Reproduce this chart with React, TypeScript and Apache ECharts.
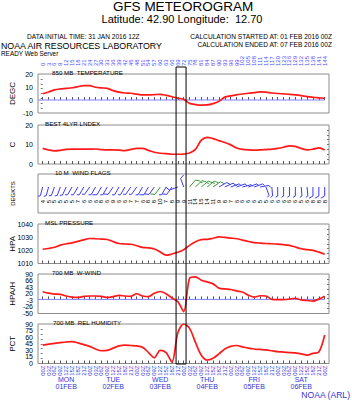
import React, { useEffect, useRef } from "react";
import * as echarts from "echarts";

// ---------- tick labels ----------
const forecastHourLabels = ["0","3","6","9","12","15","18","21","24","27","30","33","36","39","42","45","48","51","54","57","60","63","66","69","72","75","78","81","84","87","90","93","96","99","102","105","108","111","114","117","120","123","126","129","132","135","138","141","144"];
const utcHourLabels = ["00Z","03Z","06Z","09Z","12Z","15Z","18Z","21Z"];
const dayLabels = ["MON\n01FEB","TUE\n02FEB","WED\n03FEB","THU\n04FEB","FRI\n05FEB","SAT\n06FEB"];
const dayLabelSteps = [4, 12, 20, 28, 36, 44];
const tempTicks = [-10, 0, 10, 20];
const liftedTicks = [0, 10, 20];
const pressureTicks = [1010, 1020, 1030, 1040];
const wWindTicks = [-50, -26.67, -3.33, 20, 43.33, 66.67, 90];
const rhTicks = [0, 15, 30, 45, 60, 75, 90];

// ---------- series values (one per 3 h step) ----------
const temp850 = [4.8,6.2,7.8,8.5,8.9,9.4,10.3,11.1,11.0,9.8,9.3,9.0,7.2,6.0,5.4,5.2,4.5,3.9,3.9,4.1,4.4,3.6,2.5,1.4,0.5,-2.6,-3.5,-3.9,-3.8,-2.8,-1.0,2.2,3.2,4.0,4.6,5.2,5.7,6.2,6.0,5.4,5.0,4.7,4.4,4.0,3.4,2.6,2.1,1.7,1.3];
const liftedIndex = [8.0,7.2,6.7,7.0,7.5,7.6,7.6,7.6,7.6,7.7,7.4,7.2,7.2,7.1,6.9,7.5,8.0,8.0,7.0,6.0,5.5,5.3,5.0,5.0,5.1,5.6,7.5,12.2,13.7,13.0,12.0,11.0,9.8,8.2,7.5,7.2,7.1,7.2,7.4,7.6,8.0,8.6,9.3,9.0,8.0,7.2,7.6,8.3,7.2];
const mslPressure = [1020.8,1021.4,1022.3,1024.0,1025.0,1025.7,1026.8,1028.0,1029.0,1028.8,1028.5,1028.2,1026.6,1025.2,1024.8,1024.6,1023.5,1022.3,1021.9,1021.0,1018.8,1016.3,1017.2,1018.5,1020.5,1023.8,1026.6,1028.2,1028.3,1029.2,1030.2,1029.8,1029.3,1028.8,1027.8,1026.7,1025.9,1025.5,1025.2,1025.0,1024.7,1024.3,1023.8,1022.5,1021.2,1020.5,1020.0,1018.6,1017.0];
const wWind700 = [27,22,19,18,12,8,7,11,12,12,11,7,10,14,12,11,20,12,10,22,28,20,5,-8,-43,75,80,68,62,55,40,37,35,30,26,15,8,13,12,0,-1,-1,1,4,-2,-4,-6,1,11];
const relHum700 = [42,44,46,47.5,49,50,47,43,39,33,29,30,35,40,42,41,40,37,25,13,30,25,3,70,90,80,48,19,8,12,22,33,39,41,38,35,33,32,31,29,27,26,25,24,22,19,23,26,65];
const windSpeed10m = [4,5,5,5,5,5,7,6,6,6,8,6,9,6,6,7,7,6,8,8,10,7,8,9,9,11,14,15,14,11,9,8,7,6,6,6,6,5,5,6,6,6,6,6,5,6,8,8,8];
const windDir10m = [195,195,200,200,205,210,210,210,215,210,210,210,215,210,210,215,215,210,210,215,215,210,215,250,340,40,45,50,50,55,60,65,70,70,75,70,70,80,160,175,180,180,180,180,175,175,180,180,180];

// calculation window marker (in 3 h steps)
const markerStart = 22.7;
const markerEnd = 24.4;

const FONT = "'Liberation Sans', Arial, sans-serif";
const XMIN = -0.8;
const XMAX = 48.73;
const LEFT = 38;
const WIDTH = 291;
const tops = [74, 125, 174, 224, 274, 324];
const heights = [39, 39, 39, 39.5, 39.5, 39.5];
const steps = forecastHourLabels.map((_, i) => i);
const BLUE = "#3535d8";

const panelTitles = [
  { text: "850 MB  TEMPERATURE", x: 52 },
  { text: "BEST 4LYR LNDEX", x: 45 },
  { text: "10 M  WIND FLAGS", x: 55 },
  { text: "MSL PRESSURE", x: 45 },
  { text: "700 MB  W-WIND", x: 52 },
  { text: "700 MB  REL HUMIDITY", x: 53 },
];

const yDefs = [
  { min: -10, max: 20, ticks: tempTicks, minor: 8, name: "DEGC", nameSize: 8 },
  { min: 0, max: 20, ticks: liftedTicks, minor: 8, name: "C", nameSize: 8 },
  { min: 0, max: 10, ticks: [] as number[], minor: 0, name: "DEGKTS", nameSize: 6 },
  { min: 1010, max: 1040, ticks: pressureTicks, minor: 8, name: "HPA", nameSize: 8 },
  { min: -50, max: 90, ticks: wWindTicks, minor: 8, name: "HPA/H", nameSize: 8 },
  { min: 0, max: 90, ticks: rhTicks, minor: 8, name: "PCT", nameSize: 8 },
];

const px = (v: number) => LEFT + ((v - XMIN) / (XMAX - XMIN)) * WIDTH;

export default function App() {
  const ref = useRef<HTMLDivElement>(null);
  useEffect(() => {
    if (!ref.current) return;
    const chart = echarts.init(ref.current, null, { renderer: "svg" });

    const xAxes: any[] = tops.map((_, k) => ({
      type: "value",
      gridIndex: k,
      min: XMIN,
      max: XMAX,
      axisLine: { show: false },
      splitLine: { show: false },
      axisTick: {
        show: k !== 2,
        inside: true,
        length: 3,
        customValues: steps,
        lineStyle: { color: "#555" },
      },
      axisLabel:
        k === 5
          ? {
              show: true,
              customValues: steps,
              rotate: 90,
              fontSize: 6,
              margin: 2,
              color: BLUE,
              fontFamily: FONT,
              hideOverlap: false,
              formatter: (v: number) => utcHourLabels[Math.round(v) % 8],
            }
          : { show: false },
    }));
    // top forecast-hour labels
    xAxes.push({
      type: "value",
      gridIndex: 0,
      position: "top",
      min: XMIN,
      max: XMAX,
      axisLine: { show: false },
      axisTick: { show: false },
      splitLine: { show: false },
      axisLabel: {
        customValues: steps,
        rotate: 90,
        fontSize: 6,
        margin: 8,
        color: "#4d4dff",
        fontFamily: FONT,
        hideOverlap: false,
        formatter: (v: number) => forecastHourLabels[Math.round(v)],
      },
    });
    // day labels
    xAxes.push({
      type: "value",
      gridIndex: 5,
      position: "bottom",
      min: XMIN,
      max: XMAX,
      axisLine: { show: false },
      axisTick: { show: false },
      splitLine: { show: false },
      axisLabel: {
        customValues: dayLabelSteps,
        fontSize: 7,
        lineHeight: 7,
        margin: 12,
        color: BLUE,
        fontFamily: FONT,
        hideOverlap: false,
        formatter: (v: number) => dayLabels[dayLabelSteps.indexOf(Math.round(v))],
      },
    });

    const yAxes: any[] = yDefs.map((d, k) => ({
      type: "value",
      gridIndex: k,
      min: d.min,
      max: d.max,
      axisLine: { show: false },
      axisTick: { show: false },
      splitLine: { show: false },
      axisLabel: { show: false },
      name: d.name,
      nameLocation: "middle",
      nameRotate: 90,
      nameGap: 22,
      nameMoveOverlap: false,
      nameTextStyle: { fontSize: d.nameSize, color: "#000", fontFamily: FONT },
    }));
    // right-hand minor ticks
    yDefs.forEach((d, k) => {
      const vals: number[] = [];
      for (let j = 1; j < d.minor; j++) vals.push(d.min + ((d.max - d.min) * j) / d.minor);
      yAxes.push({
        type: "value",
        gridIndex: k,
        position: "right",
        min: d.min,
        max: d.max,
        axisLine: { show: false },
        splitLine: { show: false },
        axisLabel: { show: false },
        axisTick: { show: d.minor > 0, inside: true, length: 2, customValues: vals, lineStyle: { color: "#777" } },
      });
    });

    const lineSeries = (k: number, vals: number[]) => ({
      type: "line",
      xAxisIndex: k,
      yAxisIndex: k,
      data: steps.map((i) => [i, vals[i]]),
      symbol: "none",
      smooth: 0.3,
      lineStyle: { color: "#ff1a1a", width: 1.7 },
      silent: true,
    });
    const zeroLine = (k: number) => ({
      type: "line",
      xAxisIndex: k,
      yAxisIndex: k,
      data: [
        [XMIN, 0],
        [steps[steps.length - 1], 0],
      ],
      symbol: "none",
      lineStyle: { color: "#8080ff", width: 1 },
      silent: true,
    });

    const windSeries = {
      type: "custom",
      xAxisIndex: 2,
      yAxisIndex: 2,
      clip: false,
      silent: true,
      data: steps.map((i) => [i, windSpeed10m[i], windDir10m[i]]),
      renderItem: (_params: any, api: any) => {
        const i = api.value(0);
        const spd = api.value(1);
        const dir = api.value(2);
        const base = api.coord([i, 6.67]);
        const numPt = api.coord([i, 2.9]);
        const rad = (dir * Math.PI) / 180;
        const vx = Math.sin(rad);
        const vy = -Math.cos(rad);
        const L = 9;
        const tx = base[0] + vx * L;
        const ty = base[1] + vy * L;
        const pxv = -vy;
        const pyv = vx;
        const color = spd >= 10 ? "#3d9a3d" : "#3b3bf0";
        const children: any[] = [
          {
            type: "line",
            shape: { x1: base[0], y1: base[1], x2: tx, y2: ty },
            style: { stroke: color, lineWidth: 1 },
          },
        ];
        let rem = Math.round(spd / 5) * 5;
        let pos = 0;
        const feather = (len: number) => {
          const sx = tx - vx * pos;
          const sy = ty - vy * pos;
          children.push({
            type: "line",
            shape: {
              x1: sx,
              y1: sy,
              x2: sx + (pxv * 0.87 + vx * 0.5) * len,
              y2: sy + (pyv * 0.87 + vy * 0.5) * len,
            },
            style: { stroke: color, lineWidth: 1 },
          });
          pos += 2.2;
        };
        while (rem >= 10) {
          feather(4.5);
          rem -= 10;
        }
        if (rem >= 5) feather(2.5);
        children.push({
          type: "text",
          x: numPt[0],
          y: numPt[1],
          rotation: Math.PI / 2,
          style: {
            text: String(spd),
            fontSize: 6,
            fill: "#000",
            align: "center",
            verticalAlign: "middle",
            fontFamily: FONT,
          },
        });
        return { type: "group", children };
      },
    };

    const graphics: any[] = [
      { type: "text", x: 183, y: 6.5, style: { text: "GFS METEOROGRAM", fontSize: 13.5, fill: "#000", align: "center", verticalAlign: "middle", fontFamily: FONT } },
      { type: "text", x: 182, y: 18.5, style: { text: "Latitude: 42.90 Longitude:  12.70", fontSize: 11, fill: "#000", align: "center", verticalAlign: "middle", fontFamily: FONT } },
      { type: "text", x: 27, y: 36.5, style: { text: "DATA INITIAL TIME: 31 JAN 2016 12Z", fontSize: 6.6, fill: "#000", align: "left", verticalAlign: "middle", fontFamily: FONT } },
      { type: "text", x: 332, y: 36.5, style: { text: "CALCULATION STARTED AT: 01 FEB 2016 00Z", fontSize: 6.6, fill: "#000", align: "right", verticalAlign: "middle", fontFamily: FONT } },
      { type: "text", x: 332, y: 44, style: { text: "CALCULATION ENDED AT: 07 FEB 2016 00Z", fontSize: 6.6, fill: "#000", align: "right", verticalAlign: "middle", fontFamily: FONT } },
      { type: "text", x: 1, y: 45.5, style: { text: "NOAA AIR RESOURCES LABORATORY", fontSize: 8.8, fill: "#000", align: "left", verticalAlign: "middle", fontFamily: FONT } },
      { type: "text", x: 1, y: 53, style: { text: "READY Web Server", fontSize: 6.4, fill: "#000", align: "left", verticalAlign: "middle", fontFamily: FONT } },
      { type: "text", x: 350, y: 395, style: { text: "NOAA (ARL)", fontSize: 8.6, fill: BLUE, align: "right", verticalAlign: "middle", fontFamily: FONT } },
      {
        type: "rect",
        shape: { x: px(markerStart), y: 67, width: px(markerEnd) - px(markerStart), height: 364 - 67 },
        style: { fill: "none", stroke: "#000", lineWidth: 1 },
        z: 100,
      },
    ];
    panelTitles.forEach((t, k) => {
      graphics.push({
        type: "text",
        x: t.x,
        y: tops[k] + 1,
        style: { text: t.text, fontSize: 6.2, fill: "#000", align: "left", verticalAlign: "bottom", fontFamily: FONT },
      });
    });

    chart.setOption({
      animation: false,
      textStyle: { fontFamily: FONT },
      grid: tops.map((t, k) => ({
        left: LEFT,
        width: WIDTH,
        top: t,
        height: heights[k],
        show: true,
        borderColor: "#8c8c8c",
        borderWidth: 1,
        backgroundColor: "transparent",
        containLabel: false,
        outerBoundsMode: "none",
      })),
      xAxis: xAxes,
      yAxis: yAxes,
      series: [
        zeroLine(0),
        lineSeries(0, temp850),
        lineSeries(1, liftedIndex),
        windSeries,
        lineSeries(3, mslPressure),
        zeroLine(4),
        lineSeries(4, wWind700),
        lineSeries(5, relHum700),
      ],
    });

    // y tick labels, placed through each panel's own scale
    yDefs.forEach((d, k) => {
      d.ticks.forEach((v) => {
        const p = chart.convertToPixel({ xAxisIndex: k, yAxisIndex: k }, [XMIN, v]) as number[];
        graphics.push({
          type: "text",
          x: p[0] - 5,
          y: p[1],
          z: 50,
          style: {
            text: String(Math.trunc(v)),
            fontSize: 7,
            fill: "#000",
            align: "right",
            verticalAlign: "middle",
            fontFamily: FONT,
          },
        });
      });
    });
    chart.setOption({ graphic: graphics });

    return () => chart.dispose();
  }, []);
  return <div ref={ref} style={{ width: 352, height: 400, position: "absolute", left: 0, top: 0, background: "#fff" }} />;
}
